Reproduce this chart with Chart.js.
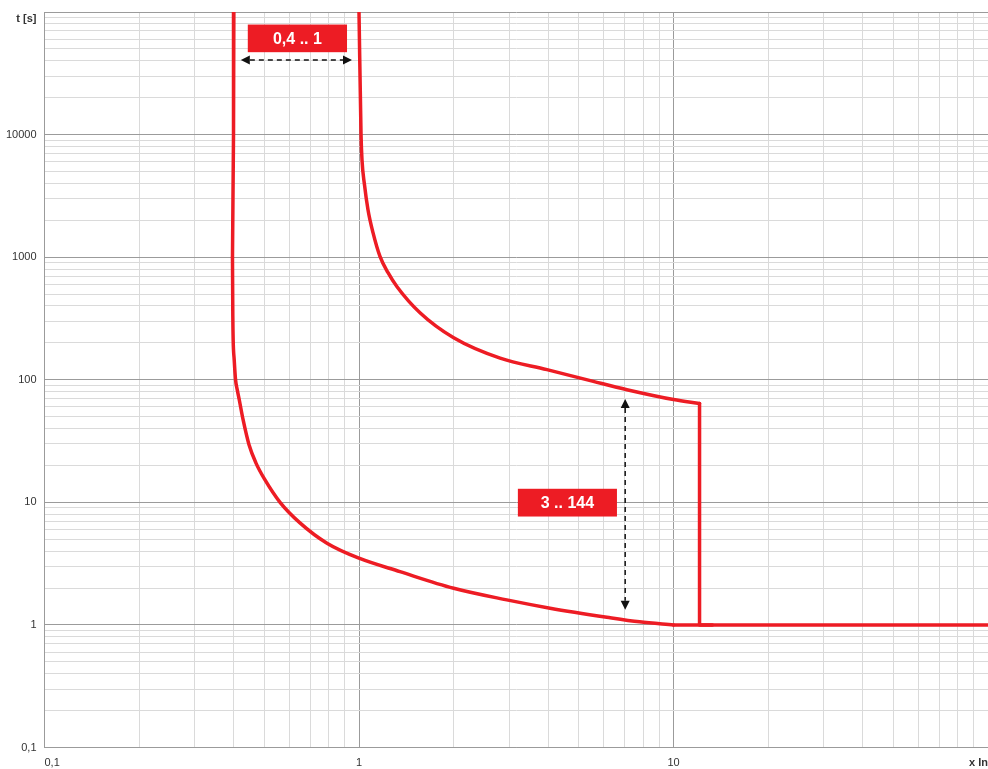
<!DOCTYPE html>
<html>
<head>
<meta charset="utf-8">
<script src="https://cdn.jsdelivr.net/npm/chart.js@4/dist/chart.umd.min.js"></script>
<style>
  html, body { margin: 0; padding: 0; background: #fff; }
  #wrap { width: 988px; height: 769px; position: relative; }
</style>
</head>
<body>
<div id="wrap"><canvas id="tripChart"></canvas></div>
<script>
// Tripping characteristic, log-log: x = multiple of In, t = seconds
const xTickValues = [0.1, 1, 10, 100];
const xTickLabels = ['0,1', '1', '10', 'x In'];
const yTickValues = [0.1, 1, 10, 100, 1000, 10000, 100000];
const yTickLabels = ['0,1', '1', '10', '100', '1000', '10000', 't [s]'];

// lower curve (Ir = 0,4 In, shortest delay) - near vertical top part
const lowerTopX = [0.400, 0.399, 0.396];
const lowerTopT = [100000, 10000, 1000];
// lower curve, bending part
const lowerX = [0.396, 0.397, 0.398, 0.401, 0.405, 0.410, 0.416, 0.428, 0.447, 0.470, 0.502, 0.561, 0.649, 0.791, 1.0, 1.35, 2.0, 2.95, 4.05, 6.14, 7.8, 10];
const lowerT = [1000, 330, 212, 146, 100, 83, 69, 47.2, 29.5, 21, 15.3, 10, 6.8, 4.64, 3.5, 2.72, 1.99, 1.60, 1.37, 1.156, 1.06, 1];
// instantaneous part after the lower curve
const flatX = [10, 100];
const flatT = [1, 1];

// upper curve (Ir = 1 In, longest delay)
const upperX = [1.0, 1.015, 1.022, 1.041, 1.068, 1.108, 1.166, 1.237, 1.321, 1.563, 2.0, 2.81, 3.96, 5.56, 7.11, 10, 12.1];
const upperT = [100000, 10000, 6250, 3900, 2440, 1585, 1015, 747, 574, 352, 220, 150, 121, 97, 83, 69, 64];
// short time step down of the upper curve
const stepX = [12.1, 12.1, 13.3];
const stepT = [64, 1, 1];

// setting ranges written on the chart
const bandLabels = [
  { text: '0,4 .. 1', x1: 0.443, x2: 0.916, t1: 79000, t2: 47000 },
  { text: '3 .. 144', x1: 3.20, x2: 6.61, t1: 12.9, t2: 7.66 }
];
const rangeArrows = [
  { x1: 0.421, t1: 40600, x2: 0.950, t2: 40600 },
  { x1: 7.02, t1: 69.6, x2: 7.02, t2: 1.33 }
];

const RED = '#ED1C24';
const FONT = '"Liberation Sans", Arial, Helvetica, sans-serif';

function toPoints(xs, ts) {
  return xs.map((x, i) => ({ x: x, y: ts[i] }));
}

function logTicks(min, max) {
  const ticks = [];
  const e0 = Math.round(Math.log10(min));
  const e1 = Math.round(Math.log10(max));
  for (let e = e0; e < e1; e++) {
    for (let m = 1; m < 10; m++) {
      ticks.push({ value: parseFloat((m * Math.pow(10, e)).toPrecision(6)), major: m === 1 });
    }
  }
  ticks.push({ value: max, major: true });
  return ticks;
}

function labelFor(v, values, labels) {
  const i = values.findIndex(tv => Math.abs(v - tv) / tv < 1e-6);
  return i < 0 ? '' : labels[i];
}

function curve(xs, ts, smooth) {
  const ds = {
    data: toPoints(xs, ts),
    showLine: true,
    borderColor: RED,
    borderWidth: 3.5,
    borderCapStyle: 'round',
    borderJoinStyle: 'round',
    pointRadius: 0,
    fill: false,
    tension: 0
  };
  if (smooth) {
    ds.cubicInterpolationMode = 'monotone';
  }
  return ds;
}

function drawArrowHead(ctx, tipX, tipY, dx, dy) {
  // dx,dy = unit vector pointing toward the tip
  const len = 9, half = 4.5;
  ctx.beginPath();
  ctx.moveTo(tipX, tipY);
  ctx.lineTo(tipX - dx * len - dy * half, tipY - dy * len + dx * half);
  ctx.lineTo(tipX - dx * len + dy * half, tipY - dy * len - dx * half);
  ctx.closePath();
  ctx.fill();
}

const notesPlugin = {
  id: 'bandNotes',
  afterDatasetsDraw(chart) {
    const { ctx } = chart;
    const xs = chart.scales.x, ys = chart.scales.y;
    ctx.save();

    // dashed double arrows
    rangeArrows.forEach(a => {
      const ax = xs.getPixelForValue(a.x1), ay = ys.getPixelForValue(a.t1);
      const bx = xs.getPixelForValue(a.x2), by = ys.getPixelForValue(a.t2);
      const L = Math.hypot(bx - ax, by - ay);
      const dx = (bx - ax) / L, dy = (by - ay) / L;
      ctx.strokeStyle = '#111';
      ctx.fillStyle = '#111';
      ctx.lineWidth = 1.5;
      ctx.setLineDash([5, 4]);
      ctx.beginPath();
      ctx.moveTo(ax + dx * 9, ay + dy * 9);
      ctx.lineTo(bx - dx * 9, by - dy * 9);
      ctx.stroke();
      ctx.setLineDash([]);
      drawArrowHead(ctx, bx, by, dx, dy);
      drawArrowHead(ctx, ax, ay, -dx, -dy);
    });

    // red label boxes
    bandLabels.forEach(b => {
      const left = xs.getPixelForValue(b.x1), right = xs.getPixelForValue(b.x2);
      const top = ys.getPixelForValue(b.t1), bottom = ys.getPixelForValue(b.t2);
      ctx.fillStyle = RED;
      ctx.fillRect(left, top, right - left, bottom - top);
      ctx.fillStyle = '#fff';
      ctx.font = 'bold 16px ' + FONT;
      ctx.textAlign = 'center';
      ctx.textBaseline = 'middle';
      ctx.fillText(b.text, (left + right) / 2, (top + bottom) / 2 + 1);
    });

    ctx.restore();
  }
};

const gridColor = c => (c.tick && c.tick.major ? '#9b9b9b' : '#dadada');

new Chart(document.getElementById('tripChart'), {
  type: 'scatter',
  data: {
    datasets: [
      curve(lowerTopX, lowerTopT, false),
      curve(lowerX, lowerT, true),
      curve(flatX, flatT, false),
      curve(upperX, upperT, true),
      curve(stepX, stepT, false)
    ]
  },
  options: {
    responsive: true,
    maintainAspectRatio: false,
    animation: false,
    layout: { padding: { top: 12, right: 0, bottom: 0, left: 0 } },
    plugins: {
      legend: { display: false },
      tooltip: { enabled: false }
    },
    scales: {
      x: {
        type: 'logarithmic',
        min: 0.1,
        max: 100,
        afterBuildTicks: scale => { scale.ticks = logTicks(0.1, 100); },
        afterFit: scale => {
          scale.height = 21.5;
          scale.paddingLeft = 0;
          scale.paddingRight = 0;
        },
        grid: { color: gridColor, lineWidth: 1, drawTicks: false },
        border: { color: '#9b9b9b', width: 1 },
        ticks: {
          autoSkip: false,
          maxRotation: 0,
          align: 'inner',
          padding: 9,
          color: '#333',
          font: c => ({ family: FONT, size: 11, weight: c.tick && c.tick.value === 100 ? 'bold' : 'normal' }),
          callback: v => labelFor(v, xTickValues, xTickLabels)
        }
      },
      y: {
        type: 'logarithmic',
        min: 0.1,
        max: 100000,
        afterBuildTicks: scale => { scale.ticks = logTicks(0.1, 100000); },
        afterFit: scale => {
          scale.width = 44.5;
          scale.paddingTop = 0;
          scale.paddingBottom = 0;
        },
        grid: { color: gridColor, lineWidth: 1, drawTicks: false },
        border: { color: '#9b9b9b', width: 1 },
        ticks: {
          autoSkip: false,
          padding: 8,
          color: '#333',
          font: c => ({ family: FONT, size: 11, weight: c.tick && c.tick.value === 100000 ? 'bold' : 'normal' }),
          callback: v => {
            const lab = labelFor(v, yTickValues, yTickLabels);
            // axis title sits just under the top grid line
            return lab === 't [s]' ? ['', lab] : lab;
          }
        }
      }
    }
  },
  plugins: [notesPlugin]
});
</script>
</body>
</html>
